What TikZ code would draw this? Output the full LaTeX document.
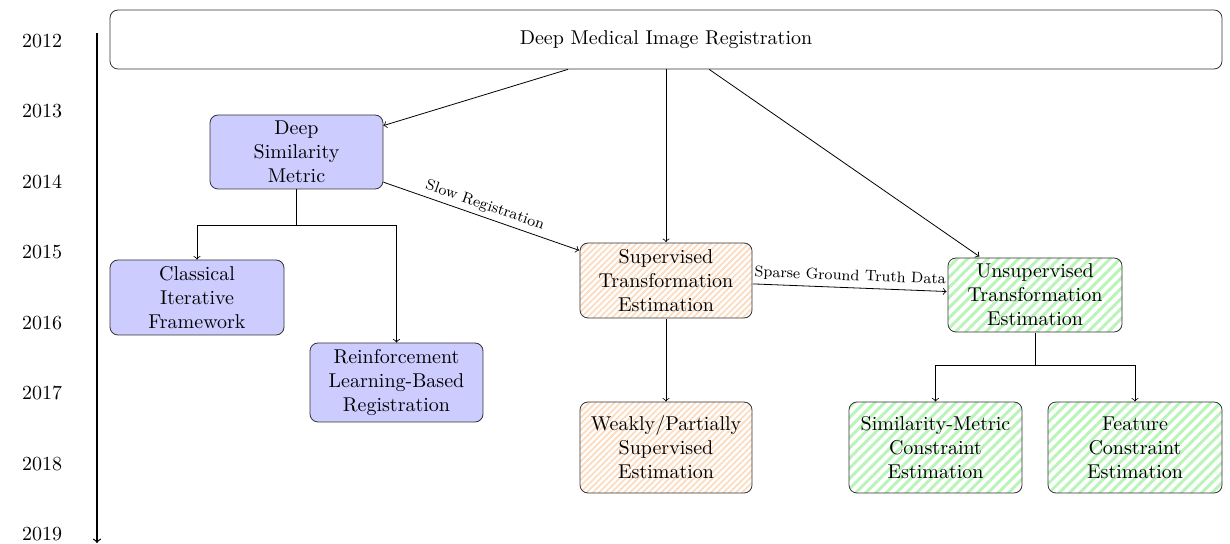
\documentclass[tikz,border=0pt]{standalone}
\usetikzlibrary{patterns.meta}
\definecolor{boxblue}{RGB}{204,204,255}
\definecolor{hatchorange}{RGB}{252,220,192}
\definecolor{hatchgreen}{RGB}{186,244,186}
\tikzset{
  box/.style={draw=black!80,rounded corners=4pt,align=center,inner sep=0pt,font=\normalsize},
  bluebox/.style={box,fill=boxblue},
  supbox/.style={box,pattern={Lines[angle=45,distance=2.2pt,line width=0.9pt]},pattern color=hatchorange},
  unsbox/.style={box,pattern={Lines[angle=45,distance=3.6pt,line width=1.5pt]},pattern color=hatchgreen},
  link/.style={->},
  year/.style={font=\normalsize},
  edgelabel/.style={font=\fontsize{7.6pt}{9pt}\selectfont,sloped,above,midway,inner sep=2pt}
}
\begin{document}
\begin{tikzpicture}[x=0.5pt,y=-0.5pt]
\useasboundingbox (0,0) rectangle (1230,544);

% timeline
\foreach \yr [count=\i from 0] in {2012,...,2019}
  \node[year] (y\yr) at (42,{41+70.43*\i}) {\yr};
\coordinate (tstart) at (97,33);
\coordinate (tend) at (97,543);
\draw[link,semithick] (tstart) -- (tend);

% nodes
\node[box,minimum width=556pt,minimum height=29.5pt] (root) at (666,39.5) {Deep Medical Image Registration};
\node[bluebox,minimum width=86.5pt,minimum height=37pt] (dsm) at (296.5,152) {Deep\\Similarity\\Metric};
\node[bluebox,minimum width=87pt,minimum height=37.5pt] (cif) at (197,297.5) {Classical\\Iterative\\Framework};
\node[bluebox,minimum width=86.5pt,minimum height=39.5pt] (rl) at (396.5,382.5) {Reinforcement\\Learning-Based\\Registration};
\node[supbox,minimum width=86pt,minimum height=37.5pt] (sup) at (666,280.5) {Supervised\\Transformation\\Estimation};
\node[supbox,minimum width=86pt,minimum height=45.5pt] (weak) at (666,447.5) {Weakly/Partially\\Supervised\\Estimation};
\node[unsbox,minimum width=87pt,minimum height=37pt] (uns) at (1035,295) {Unsupervised\\Transformation\\Estimation};
\node[unsbox,minimum width=86.5pt,minimum height=45.5pt] (smc) at (935.5,447.5) {Similarity-Metric\\Constraint\\Estimation};
\node[unsbox,minimum width=87pt,minimum height=45.5pt] (fc) at (1135,447.5) {Feature\\Constraint\\Estimation};

% connectors
\draw[link] (root) -- (dsm);
\draw[link] (root) -- (sup);
\draw[link] (root) -- (uns);
\draw[link] (dsm) -- node[edgelabel] {Slow Registration} (sup);
\draw[link] (sup) -- node[edgelabel] {Sparse Ground Truth Data} (uns);

\coordinate (dsmsplit) at (296.5,225);
\draw (dsm.south) -- (dsmsplit);
\draw[link] (dsmsplit) -| (cif.north);
\draw[link] (dsmsplit) -| (rl.north);

\draw[link] (sup) -- (weak);

\coordinate (unssplit) at (1035,365);
\draw (uns.south) -- (unssplit);
\draw[link] (unssplit) -| (smc.north);
\draw[link] (unssplit) -| (fc.north);
\end{tikzpicture}
\end{document}
